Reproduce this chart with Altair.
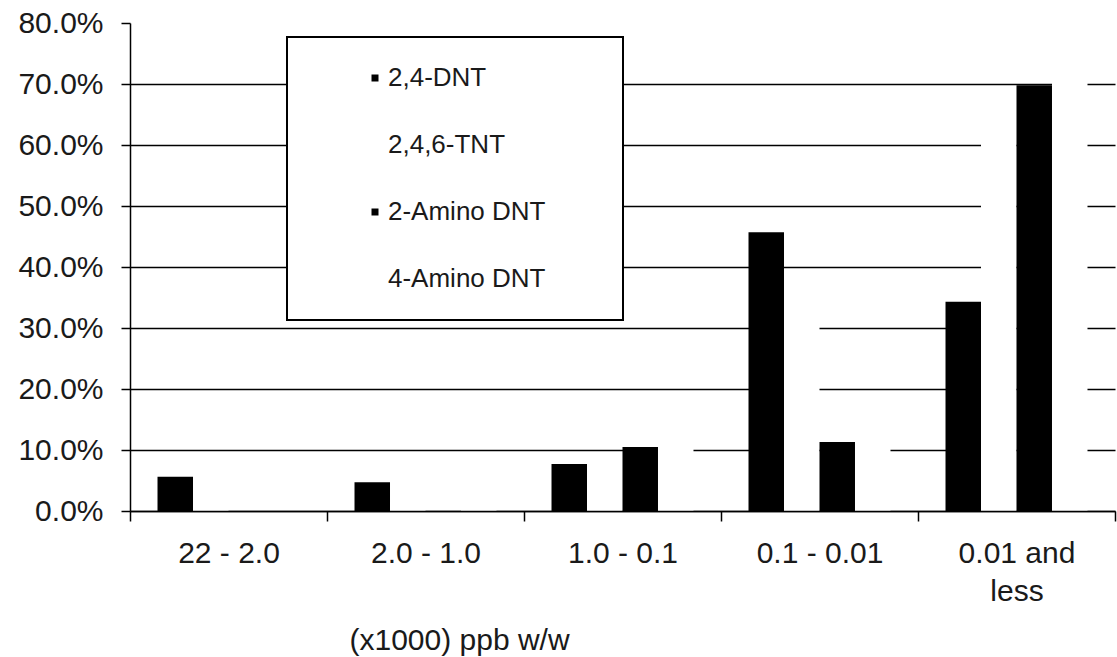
import altair as alt
import pandas as pd

categories = ["22 - 2.0", "2.0 - 1.0", "1.0 - 0.1", "0.1 - 0.01", "0.01 and less"]
series = ["2,4-DNT", "2,4,6-TNT", "2-Amino DNT", "4-Amino DNT"]
dnt_24 = [0.056, 0.047, 0.077, 0.457, 0.343]
tnt_246 = [0.010, 0.015, 0.035, 0.330, 0.630]
amino_2 = [0.0, 0.0, 0.105, 0.113, 0.698]
amino_4 = [0.0, 0.010, 0.130, 0.140, 0.720]
series_colors = ["#000000", "#ffffff", "#000000", "#ffffff"]
y_ticks = [0.0, 0.1, 0.2, 0.3, 0.4, 0.5, 0.6, 0.7, 0.8]

rows = []
for name, vals in zip(series, [dnt_24, tnt_246, amino_2, amino_4]):
    for c, v in zip(categories, vals):
        rows.append({"range": c, "compound": name, "share": v})
df = pd.DataFrame(rows)

FONT = "Liberation Sans"
TXT = "#1a1a1a"

chart = alt.Chart(df).mark_bar(strokeWidth=0).encode(
    x=alt.X(
        "range:N",
        sort=categories,
        scale=alt.Scale(paddingInner=0, paddingOuter=0),
        axis=alt.Axis(
            title="(x1000) ppb w/w",
            titleFont=FONT, titleFontSize=30, titleFontWeight="normal", titleColor=TXT,
            titleX=329, titleY=129, titleAlign="center", titleBaseline="middle",
            labelFont=FONT, labelFontSize=30, labelColor=TXT, labelAngle=0,
            labelPadding=17, labelLineHeight=38, labelBaseline="top",
            labelExpr="datum.value == '0.01 and less' ? ['0.01 and', 'less'] : datum.value",
            tickBand="extent", tickSize=10, tickColor="#000", tickWidth=1.5,
            domainColor="#000", domainWidth=1.5, grid=False, zindex=1,
        ),
    ),
    xOffset=alt.XOffset(
        "compound:N", sort=series,
        scale=alt.Scale(paddingInner=0, paddingOuter=0.775),
    ),
    y=alt.Y(
        "share:Q",
        scale=alt.Scale(domain=[0, 0.8], nice=False),
        axis=alt.Axis(
            title=None, values=y_ticks, format=".1%",
            labelFont=FONT, labelFontSize=30, labelColor=TXT, labelPadding=18,
            tickSize=9, tickColor="#000", tickWidth=1.5,
            domainColor="#000", domainWidth=1.5,
            grid=True, gridColor="#000", gridWidth=1.6,
            gridOpacity={"condition": {"test": "datum.value >= 0.79", "value": 0}, "value": 1},
        ),
    ),
    color=alt.Color(
        "compound:N", sort=series,
        scale=alt.Scale(domain=series, range=series_colors),
        legend=alt.Legend(
            title="MM", titleOrient="right", titleOpacity=0, titleFontSize=27,
            titlePadding=5, titleFont=FONT,
            orient="none", legendX=157, legendY=14,
            fillColor="#ffffff", strokeColor="#000000",
            padding=28, symbolType="square", symbolSize=49, symbolStrokeWidth=0,
            symbolOffset=47, labelOffset=0, rowPadding=41,
            labelFont=FONT, labelFontSize=26, labelColor=TXT, labelLimit=500,
        ),
    ),
).properties(
    width=985,
    height=488,
    autosize=alt.AutoSizeParams(type="none"),
    padding={"left": 130, "top": 23, "right": 2, "bottom": 146},
    background="#ffffff",
).configure_view(stroke=None).configure_legend(strokeWidth=2)

chart.save("out.html", embed_options={"renderer": "svg", "actions": False})
